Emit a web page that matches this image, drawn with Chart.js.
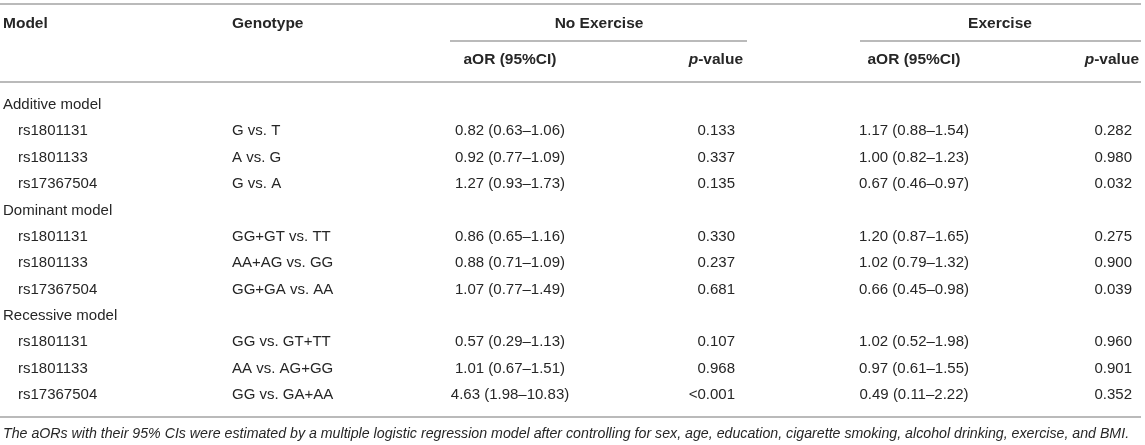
<!DOCTYPE html>
<html>
<head>
<meta charset="utf-8">
<title>aOR by exercise status</title>
<script src="https://cdn.jsdelivr.net/npm/chart.js@4.4.1/dist/chart.umd.min.js"></script>
<style>
    html, body { margin: 0; padding: 0; background: #fff; }
    #wrap { width: 1145px; height: 445px; position: relative; }
</style>
</head>
<body>
<div id="wrap"><canvas id="tableChart"></canvas></div>
<script>
// Table content
const models = ['Additive model', 'Dominant model', 'Recessive model'];
const snps = ['rs1801131', 'rs1801133', 'rs17367504'];
const genotypes = [
    ['G vs. T', 'A vs. G', 'G vs. A'],
    ['GG+GT vs. TT', 'AA+AG vs. GG', 'GG+GA vs. AA'],
    ['GG vs. GT+TT', 'AA vs. AG+GG', 'GG vs. GA+AA']
];
const noExerciseAOR = [
    ['0.82 (0.63\u20131.06)', '0.92 (0.77\u20131.09)', '1.27 (0.93\u20131.73)'],
    ['0.86 (0.65\u20131.16)', '0.88 (0.71\u20131.09)', '1.07 (0.77\u20131.49)'],
    ['0.57 (0.29\u20131.13)', '1.01 (0.67\u20131.51)', '4.63 (1.98\u201310.83)']
];
const noExerciseP = [
    ['0.133', '0.337', '0.135'],
    ['0.330', '0.237', '0.681'],
    ['0.107', '0.968', '<0.001']
];
const exerciseAOR = [
    ['1.17 (0.88\u20131.54)', '1.00 (0.82\u20131.23)', '0.67 (0.46\u20130.97)'],
    ['1.20 (0.87\u20131.65)', '1.02 (0.79\u20131.32)', '0.66 (0.45\u20130.98)'],
    ['1.02 (0.52\u20131.98)', '0.97 (0.61\u20131.55)', '0.49 (0.11\u20132.22)']
];
const exerciseP = [
    ['0.282', '0.980', '0.032'],
    ['0.275', '0.900', '0.039'],
    ['0.960', '0.901', '0.352']
];
const footnote = 'The aORs with their 95% CIs were estimated by a multiple logistic regression model after controlling for sex, age, education, cigarette smoking, alcohol drinking, exercise, and BMI.';

const FAMILY = '"Liberation Sans", Arial, Helvetica, sans-serif';
const BODY_FONT = '15px ' + FAMILY;
const HEAD_FONT = 'bold 15.5px ' + FAMILY;
const TEXT_COLOR = '#262626';
const RULE_COLOR = '#a3a3a3';

// x anchors along the x axis, y in row units (0 = first body row)
const COL = { model: 3, snp: 18, geno: 232, noExOr: 510, noExP: 735, exOr: 914, exP: 1132 };
const HEAD_Y = -3.07, SUBHEAD_Y = -1.71, FOOT_Y = 12.48;

function cellSet(points, font, align) {
    return {
        data: points,
        pointRadius: 0,
        pointHoverRadius: 0,
        showLine: false,
        cellFont: font,
        cellAlign: align
    };
}

function ruleSet(x0, x1, y) {
    return {
        data: [{ x: x0, y: y }, { x: x1, y: y }],
        showLine: true,
        borderColor: RULE_COLOR,
        borderWidth: 1.5,
        pointRadius: 0,
        pointHoverRadius: 0
    };
}

// Build body rows
const groupCells = [], snpCells = [], genoCells = [];
const noOrCells = [], noPCells = [], exOrCells = [], exPCells = [];
models.forEach((m, g) => {
    const base = g * 4;
    groupCells.push({ x: COL.model, y: base, text: m });
    snps.forEach((s, k) => {
        const y = base + 1 + k;
        snpCells.push({ x: COL.snp, y: y, text: s });
        genoCells.push({ x: COL.geno, y: y, text: genotypes[g][k] });
        noOrCells.push({ x: COL.noExOr, y: y, text: noExerciseAOR[g][k] });
        noPCells.push({ x: COL.noExP, y: y, text: noExerciseP[g][k] });
        exOrCells.push({ x: COL.exOr, y: y, text: exerciseAOR[g][k] });
        exPCells.push({ x: COL.exP, y: y, text: exerciseP[g][k] });
    });
});

const pValueHead = [['p', 'italic ' + HEAD_FONT], ['-value', HEAD_FONT]];

const datasets = [
    ruleSet(0, 1141, -3.83),
    ruleSet(450, 747, -2.43),
    ruleSet(860, 1141, -2.43),
    ruleSet(0, 1141, -0.87),
    ruleSet(0, 1141, 11.84),
    cellSet([
        { x: COL.model, y: HEAD_Y, text: 'Model' },
        { x: COL.geno, y: HEAD_Y, text: 'Genotype' }
    ], HEAD_FONT, 'left'),
    cellSet([
        { x: 599, y: HEAD_Y, text: 'No Exercise' },
        { x: 1000, y: HEAD_Y, text: 'Exercise' },
        { x: COL.noExOr, y: SUBHEAD_Y, text: 'aOR (95%CI)' },
        { x: COL.exOr, y: SUBHEAD_Y, text: 'aOR (95%CI)' }
    ], HEAD_FONT, 'center'),
    cellSet([
        { x: 743, y: SUBHEAD_Y, text: pValueHead },
        { x: 1139, y: SUBHEAD_Y, text: pValueHead }
    ], HEAD_FONT, 'right'),
    cellSet(groupCells, BODY_FONT, 'left'),
    cellSet(snpCells, BODY_FONT, 'left'),
    cellSet(genoCells, BODY_FONT, 'left'),
    cellSet(noOrCells, BODY_FONT, 'center'),
    cellSet(exOrCells, BODY_FONT, 'center'),
    cellSet(noPCells.concat(exPCells), BODY_FONT, 'right'),
    cellSet([{ x: COL.model, y: FOOT_Y, text: footnote }], 'italic 14.2px ' + FAMILY, 'left')
];

// Draws the text of each cell at the point the scales give it
const cellText = {
    id: 'cellText',
    afterDatasetsDraw(chart) {
        const ctx = chart.ctx;
        chart.data.datasets.forEach((ds, i) => {
            if (!ds.cellFont) return;
            const meta = chart.getDatasetMeta(i);
            ctx.save();
            ctx.fillStyle = TEXT_COLOR;
            ctx.textBaseline = 'middle';
            meta.data.forEach((pt, j) => {
                const t = ds.data[j].text;
                const parts = Array.isArray(t) ? t : [[t, ds.cellFont]];
                let total = 0;
                parts.forEach(p => { ctx.font = p[1]; total += ctx.measureText(p[0]).width; });
                let x = pt.x;
                if (ds.cellAlign === 'center') x -= total / 2;
                if (ds.cellAlign === 'right') x -= total;
                ctx.textAlign = 'left';
                parts.forEach(p => {
                    ctx.font = p[1];
                    ctx.fillText(p[0], x, pt.y);
                    x += ctx.measureText(p[0]).width;
                });
            });
            ctx.restore();
        });
    }
};

document.addEventListener('DOMContentLoaded', function() {
    const canvas = document.getElementById('tableChart');
    new Chart(canvas.getContext('2d'), {
        type: 'scatter',
        data: { datasets: datasets },
        options: {
            responsive: true,
            maintainAspectRatio: false,
            animation: false,
            layout: { padding: 0 },
            events: [],
            plugins: {
                legend: { display: false },
                tooltip: { enabled: false }
            },
            scales: {
                x: { type: 'linear', min: 0, max: 1145, display: false },
                y: { type: 'linear', min: -3.983, max: 12.9, reverse: true, display: false }
            }
        },
        plugins: [cellText]
    });
});
</script>
</body>
</html>
